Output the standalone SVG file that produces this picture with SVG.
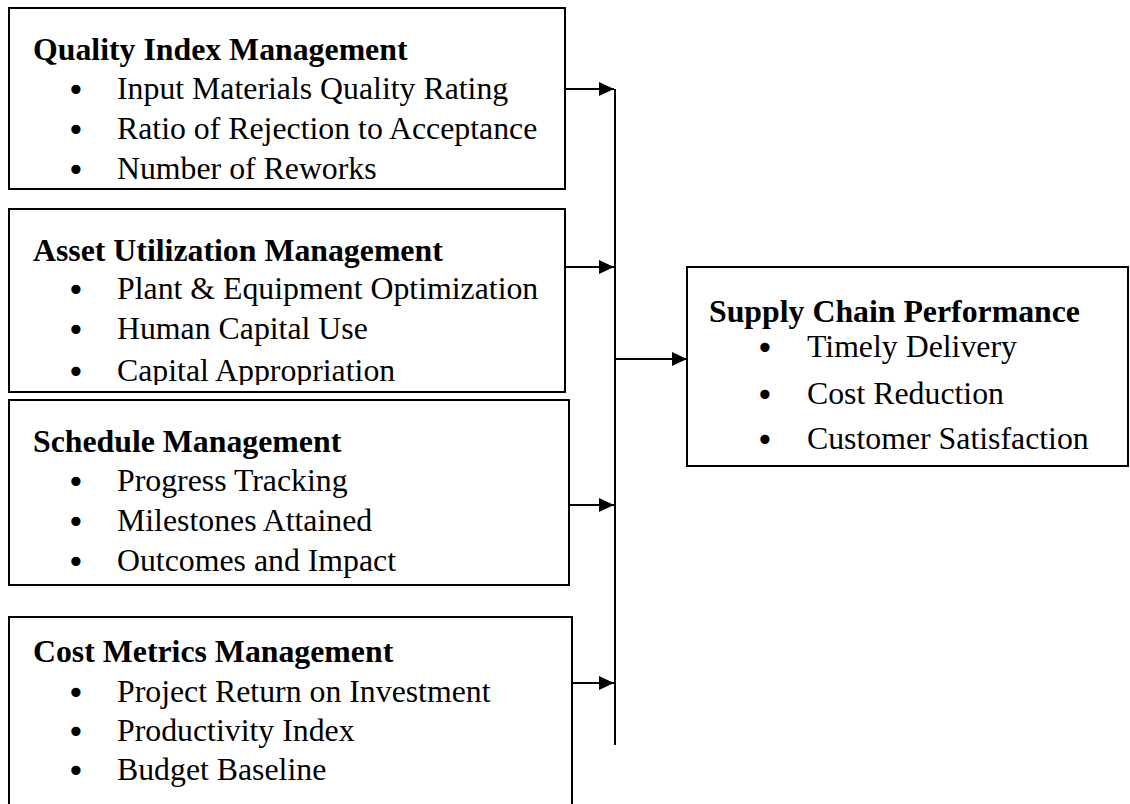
<svg xmlns="http://www.w3.org/2000/svg" width="1130" height="804" viewBox="0 0 1130 804">
  <style>
    .box { fill: #ffffff; stroke: #000000; stroke-width: 2; }
    .title { font-family: "Liberation Serif", "Times New Roman", serif; font-size: 31.8px; font-weight: bold; fill: #000000; }
    .item { font-family: "Liberation Serif", "Times New Roman", serif; font-size: 31.8px; fill: #000000; }
    .bullet { font-family: "DejaVu Sans", sans-serif; font-size: 31.8px; fill: #000000; text-anchor: middle; }
    .conn { fill: none; stroke: #000000; stroke-width: 2; }
  </style>
  <defs>
    <marker id="arrow" markerUnits="userSpaceOnUse" markerWidth="15" markerHeight="14" refX="15" refY="7" orient="auto">
      <path d="M0,0 L15,7 L0,14 Z" fill="#000000"/>
    </marker>
    <clipPath id="assetClip">
      <rect x="0" y="209" width="600" height="176"/>
    </clipPath>
  </defs>
  <rect width="1130" height="804" fill="#ffffff"/>

  <!-- Quality Index Management -->
  <g id="quality">
    <rect class="box" x="9" y="8" width="556" height="181"/>
    <text class="title" x="33" y="60">Quality Index Management</text>
    <text class="bullet" x="76" y="101">•</text>
    <text class="item" x="117" y="99">Input Materials Quality Rating</text>
    <text class="bullet" x="76" y="141">•</text>
    <text class="item" x="117" y="139">Ratio of Rejection to Acceptance</text>
    <text class="bullet" x="76" y="181">•</text>
    <text class="item" x="117" y="179">Number of Reworks</text>
  </g>

  <!-- Asset Utilization Management -->
  <g id="asset">
    <rect class="box" x="9" y="209" width="556" height="183"/>
    <text class="title" x="33" y="261">Asset Utilization Management</text>
    <text class="bullet" x="76" y="301">•</text>
    <text class="item" x="117" y="299">Plant &amp; Equipment Optimization</text>
    <text class="bullet" x="76" y="341">•</text>
    <text class="item" x="117" y="339">Human Capital Use</text>
    <g clip-path="url(#assetClip)">
      <text class="bullet" x="76" y="383">•</text>
      <text class="item" x="117" y="381">Capital Appropriation</text>
    </g>
  </g>

  <!-- Schedule Management -->
  <g id="schedule">
    <rect class="box" x="9" y="400" width="560" height="185"/>
    <text class="title" x="33" y="452">Schedule Management</text>
    <text class="bullet" x="76" y="493">•</text>
    <text class="item" x="117" y="491">Progress Tracking</text>
    <text class="bullet" x="76" y="533">•</text>
    <text class="item" x="117" y="531">Milestones Attained</text>
    <text class="bullet" x="76" y="573">•</text>
    <text class="item" x="117" y="571">Outcomes and Impact</text>
  </g>

  <!-- Cost Metrics Management -->
  <g id="cost">
    <rect class="box" x="9" y="617" width="563" height="200"/>
    <text class="title" x="33" y="662">Cost Metrics Management</text>
    <text class="bullet" x="76" y="704">•</text>
    <text class="item" x="117" y="702">Project Return on Investment</text>
    <text class="bullet" x="76" y="743">•</text>
    <text class="item" x="117" y="741">Productivity Index</text>
    <text class="bullet" x="76" y="782">•</text>
    <text class="item" x="117" y="780">Budget Baseline</text>
  </g>

  <!-- Supply Chain Performance -->
  <g id="supply">
    <rect class="box" x="687" y="267" width="441" height="199"/>
    <text class="title" x="709" y="322">Supply Chain Performance</text>
    <text class="bullet" x="765" y="359">•</text>
    <text class="item" x="807" y="357">Timely Delivery</text>
    <text class="bullet" x="765" y="406">•</text>
    <text class="item" x="807" y="404">Cost Reduction</text>
    <text class="bullet" x="765" y="451">•</text>
    <text class="item" x="807" y="449">Customer Satisfaction</text>
  </g>

  <!-- Connectors: feeder arrows into the collector bus, bus into the performance box -->
  <g id="connectors">
    <line class="conn" x1="615" y1="89" x2="615" y2="745"/>
    <line class="conn" x1="565" y1="89" x2="614" y2="89" marker-end="url(#arrow)"/>
    <line class="conn" x1="565" y1="267" x2="614" y2="267" marker-end="url(#arrow)"/>
    <line class="conn" x1="569" y1="505" x2="614" y2="505" marker-end="url(#arrow)"/>
    <line class="conn" x1="572" y1="683" x2="614" y2="683" marker-end="url(#arrow)"/>
    <line class="conn" x1="615" y1="359" x2="687" y2="359" marker-end="url(#arrow)"/>
  </g>
</svg>
